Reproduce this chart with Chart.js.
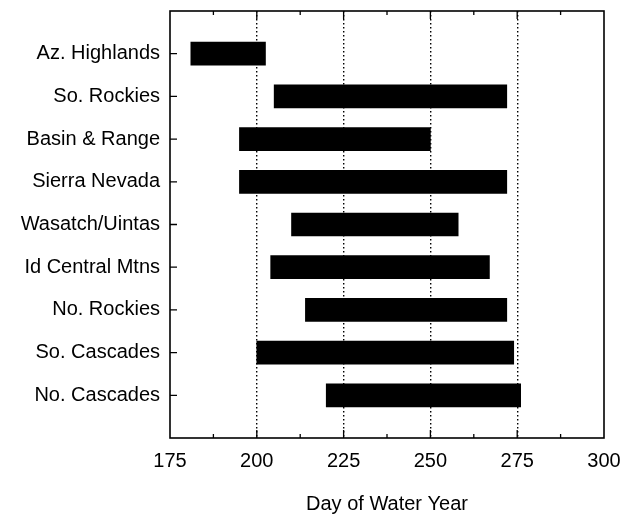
<!DOCTYPE html>
<html>
<head>
<meta charset="utf-8">
<script src="https://cdn.jsdelivr.net/npm/chart.js@4/dist/chart.umd.min.js"></script>
<style>
    html, body { margin: 0; padding: 0; background: #fff; }
    #wrap { width: 621px; height: 518px; }
</style>
</head>
<body>
<div id="wrap"><canvas id="meltChart"></canvas></div>
<script>
const regions = [
    'Az. Highlands',
    'So. Rockies',
    'Basin & Range',
    'Sierra Nevada',
    'Wasatch/Uintas',
    'Id Central Mtns',
    'No. Rockies',
    'So. Cascades',
    'No. Cascades'
];
const startDay = [181, 205, 195, 195, 210, 204, 214, 200, 220];
const endDay = [202.5, 272, 250, 272, 258, 267, 272, 274, 276];
const xTicks = [175, 200, 225, 250, 275, 300];

// empty slots above and below so the bars sit like the original
const labels = ['', ...regions, ''];
const spans = [null, ...regions.map((r, i) => [startDay[i], endDay[i]]), null];

const textFont = { family: "'Liberation Sans', Arial, sans-serif", size: 20 };

// box around the plot plus the inward tick marks
const frameTicks = {
    id: 'frameTicks',
    afterDraw(chart) {
        const { ctx, chartArea: a, scales: { x, y } } = chart;
        ctx.save();
        ctx.strokeStyle = '#000';
        ctx.lineWidth = 1.6;
        ctx.strokeRect(a.left, a.top, a.right - a.left, a.bottom - a.top);

        ctx.lineWidth = 1.3;
        ctx.beginPath();
        xTicks.forEach((t, i) => {
            const px = x.getPixelForValue(t);
            if (i > 0 && i < xTicks.length - 1) {
                ctx.moveTo(px, a.bottom); ctx.lineTo(px, a.bottom - 8);
                ctx.moveTo(px, a.top); ctx.lineTo(px, a.top + 8);
            }
            if (i < xTicks.length - 1) {
                const mid = x.getPixelForValue((t + xTicks[i + 1]) / 2);
                ctx.moveTo(mid, a.bottom); ctx.lineTo(mid, a.bottom - 4);
                ctx.moveTo(mid, a.top); ctx.lineTo(mid, a.top + 4);
            }
        });
        regions.forEach((r, i) => {
            const py = y.getPixelForValue(i + 1);
            ctx.moveTo(a.left, py); ctx.lineTo(a.left + 7, py);
        });
        ctx.stroke();
        ctx.restore();
    }
};

new Chart(document.getElementById('meltChart'), {
    type: 'bar',
    data: {
        labels,
        datasets: [{
            data: spans,
            backgroundColor: '#000',
            borderWidth: 0,
            barThickness: 23
        }]
    },
    plugins: [frameTicks],
    options: {
        indexAxis: 'y',
        responsive: true,
        maintainAspectRatio: false,
        animation: false,
        layout: {
            padding: { top: 11, right: 17, left: 0, bottom: 0 }
        },
        plugins: {
            legend: { display: false },
            tooltip: { enabled: false }
        },
        scales: {
            x: {
                type: 'linear',
                min: 175,
                max: 300,
                afterBuildTicks(scale) {
                    scale.ticks = xTicks.map(v => ({ value: v }));
                },
                afterFit(scale) {
                    scale.height = 80;
                    scale.paddingLeft = 0;
                    scale.paddingRight = 0;
                },
                grid: {
                    drawTicks: false,
                    color: ctx => (ctx.tick && (ctx.tick.value === 175 || ctx.tick.value === 300))
                        ? 'rgba(0,0,0,0)' : '#000',
                    lineWidth: 1.4
                },
                border: { display: false, dash: [1.5, 2.5] },
                ticks: {
                    color: '#000',
                    font: textFont,
                    padding: 11,
                    maxRotation: 0
                },
                title: {
                    display: true,
                    text: 'Day of Water Year',
                    color: '#000',
                    font: textFont,
                    padding: { top: 0, bottom: 2 }
                }
            },
            y: {
                min: 0,
                max: labels.length - 1,
                offset: false,
                afterFit(scale) {
                    scale.width = 170;
                    scale.paddingTop = 0;
                    scale.paddingBottom = 0;
                },
                grid: { display: false, drawTicks: false },
                border: { display: false },
                ticks: {
                    color: '#000',
                    font: textFont,
                    padding: 10,
                    autoSkip: false
                }
            }
        }
    }
});
</script>
</body>
</html>
